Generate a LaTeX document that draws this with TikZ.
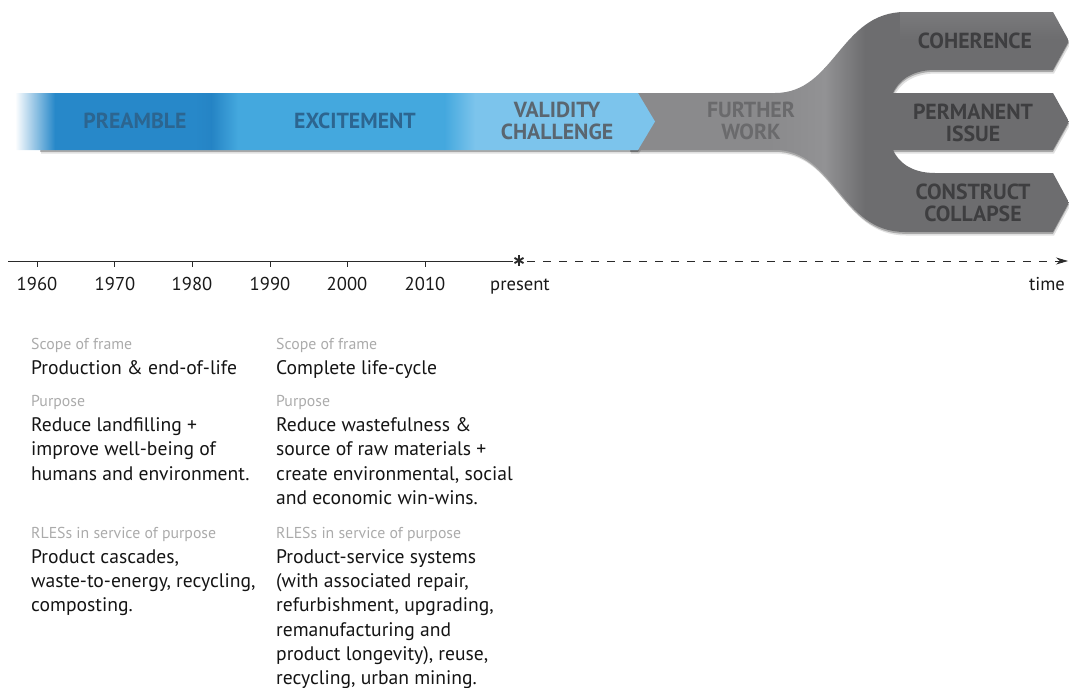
\documentclass[tikz,border=0pt]{standalone}
\usepackage{fontspec}
\setmainfont{PT Sans}
\usetikzlibrary{arrows.meta,calc}
\definecolor{bA}{HTML}{2788C9}
\definecolor{bAd}{HTML}{2584C5}
\definecolor{bB}{HTML}{44A8DE}
\definecolor{bC}{HTML}{7CC4EC}
\definecolor{gA}{HTML}{8A8A8C}
\definecolor{gH}{HTML}{929294}
\definecolor{gD}{HTML}{6D6D6F}
\definecolor{tBlue}{HTML}{2C6590}
\definecolor{tVal}{HTML}{5A6670}
\definecolor{tFur}{HTML}{6A6A6C}
\definecolor{tDark}{HTML}{3E3E40}
\definecolor{labgray}{HTML}{ABABAB}
\definecolor{axis}{HTML}{2A2A2A}
\tikzset{
  bandlabel/.style={font=\fontsize{21.8}{22}\selectfont\bfseries, align=center, inner sep=0pt},
  body/.style={font=\fontsize{19.6}{24}\selectfont, anchor=base west, inner sep=0pt, text=black!92},
  caption/.style={font=\fontsize{15.8}{18}\selectfont, anchor=base west, inner sep=0pt, text=labgray},
  yearlabel/.style={font=\fontsize{18.6}{22}\selectfont, anchor=base, inner sep=0pt, text=black!90},
  tickline/.style={draw=axis, line width=0.8pt},
}
\def\bluepath{(15,93) -- (638,93) -- (655,121.5) -- (638,150) -- (15,150) -- cycle}
\def\graypath{(630,93) -- (775,93) .. controls (835,93) and (840,12) .. (905,12) -- (1053,12) -- (1069,41) -- (1053,70) -- (935,70) .. controls (910,70) and (898,82) .. (893,93) -- (1053,93) -- (1069,121.5) -- (1053,150) -- (893,150) .. controls (898,161) and (910,173) .. (935,173) -- (1053,173) -- (1069,202.5) -- (1053,232) -- (905,232) .. controls (840,232) and (835,150) .. (775,150) -- (630,150) -- cycle}
\begin{document}
\begin{tikzpicture}[x=1pt,y=-1pt]
\useasboundingbox (0,0) rectangle (1069,688);
% shadows
\fill[black, opacity=0.12, shift={(1,3.5)}] \graypath;
\fill[black, opacity=0.25, shift={(0,1.8)}] \graypath;
\fill[black, opacity=0.12, shift={(1,3.5)}] (40,93) -- (638,93) -- (655,121.5) -- (638,150) -- (40,150) -- cycle;
\fill[black, opacity=0.25, shift={(0,1.8)}] (40,93) -- (638,93) -- (655,121.5) -- (638,150) -- (40,150) -- cycle;
% gray fork
\begin{scope}
\clip \graypath;
\fill[gA] (625,0) rectangle (770,240);
\shade[left color=gA, right color=gH] (769.5,0) rectangle (825,240);
\shade[left color=gH, right color=gD] (824.5,0) rectangle (865,240);
\fill[gD] (864.5,0) rectangle (1070,240);
\shade[top color=white, bottom color=gD, opacity=0.10] (900,10) rectangle (1070,40);
\end{scope}
% blue band
\begin{scope}
\clip \bluepath;
\shade[left color=white, right color=bA] (15,90) rectangle (55,155);
\fill[bA] (54.5,90) rectangle (195,155);
\shade[left color=bA, right color=bAd] (194.5,90) rectangle (212,155);
\shade[left color=bAd, right color=bB] (211.5,90) rectangle (238,155);
\fill[bB] (237.5,90) rectangle (445,155);
\shade[left color=bB, right color=bC] (444.5,90) rectangle (475,155);
\fill[bC] (474.5,90) rectangle (660,155);
\end{scope}
% band labels
\node[bandlabel, text=tBlue] (pre) at (135,121) {PREAMBLE};
\node[bandlabel, text=tBlue] (exc) at (355,121) {EXCITEMENT};
\node[bandlabel, text=tVal] (val) at (557,120.5) {VALIDITY\\CHALLENGE};
\node[bandlabel, text=tFur] (fur) at (751,120.5) {FURTHER\\WORK};
\node[bandlabel, text=tDark] (coh) at (975,41) {COHERENCE};
\node[bandlabel, text=tDark] (perm) at (973,123) {PERMANENT\\ISSUE};
\node[bandlabel, text=tDark] (col) at (973,202.5) {CONSTRUCT\\COLLAPSE};
% timeline
\coordinate (t0) at (8,261);
\coordinate (tstar) at (519,260.5);
\coordinate (tstarL) at (513,261);
\coordinate (tstarR) at (527,261);
\coordinate (tend) at (1068,261);
\draw[axis, line width=0.8pt] (t0) -- (tstarL);
\draw[axis, line width=0.8pt, dash pattern=on 7.5pt off 8.5pt, -{Stealth[length=12pt,width=7pt]}] (tstarR) -- (tend);
\foreach \a in {90,30,150}{
  \draw[axis, line width=1.9pt] ($(tstar)+(\a:5.2)$) -- ($(tstar)+(\a+180:5.2)$);
}
\foreach \x/\n in {37/a,114/b,192/c,270/d,347/e,425/f}{
  \coordinate (tk\n) at (\x,261);
  \coordinate (tk\n b) at (\x,267);
  \draw[tickline] (tk\n) -- (tk\n b);
}
\node[yearlabel] (y1960) at (37,290.5) {1960};
\node[yearlabel] (y1970) at (115,290.5) {1970};
\node[yearlabel] (y1980) at (192,290.5) {1980};
\node[yearlabel] (y1990) at (270,290.5) {1990};
\node[yearlabel] (y2000) at (347,290.5) {2000};
\node[yearlabel] (y2010) at (425,290.5) {2010};
\node[yearlabel] (ypres) at (520,290.5) {present};
\node[yearlabel] (ytime) at (1047,290.5) {time};
% left column
\node[caption] (l1) at (31,349.5) {Scope of frame};
\node[body] (l2) at (31,374.3) {Production \& end-of-life};
\node[caption] (l3) at (31,406) {Purpose};
\node[body] (l4) at (31,431.5) {Reduce landfilling +};
\node[body] (l5) at (31,455.8) {improve well-being of};
\node[body] (l6) at (31,480) {humans and environment.};
\node[caption] (l7) at (31,538.3) {RLESs in service of purpose};
\node[body] (l8) at (31,563.3) {Product cascades,};
\node[body] (l9) at (31,587.6) {waste-to-energy, recycling,};
\node[body] (l10) at (31,611.8) {composting.};
% right column
\node[caption] (r1) at (276,349.5) {Scope of frame};
\node[body] (r2) at (276,374.3) {Complete life-cycle};
\node[caption] (r3) at (276,406) {Purpose};
\node[body] (r4) at (276,431.5) {Reduce wastefulness \&};
\node[body] (r5) at (276,455.8) {source of raw materials +};
\node[body] (r6) at (276,480) {create environmental, social};
\node[body] (r7) at (276,504.3) {and economic win-wins.};
\node[caption] (r8) at (276,538.3) {RLESs in service of purpose};
\node[body] (r9) at (276,563.3) {Product-service systems};
\node[body] (r10) at (276,587.6) {(with associated repair,};
\node[body] (r11) at (276,611.8) {refurbishment, upgrading,};
\node[body] (r12) at (276,636.1) {remanufacturing and};
\node[body] (r13) at (276,660.4) {product longevity), reuse,};
\node[body] (r14) at (276,684.7) {recycling, urban mining.};
\end{tikzpicture}
\end{document}
